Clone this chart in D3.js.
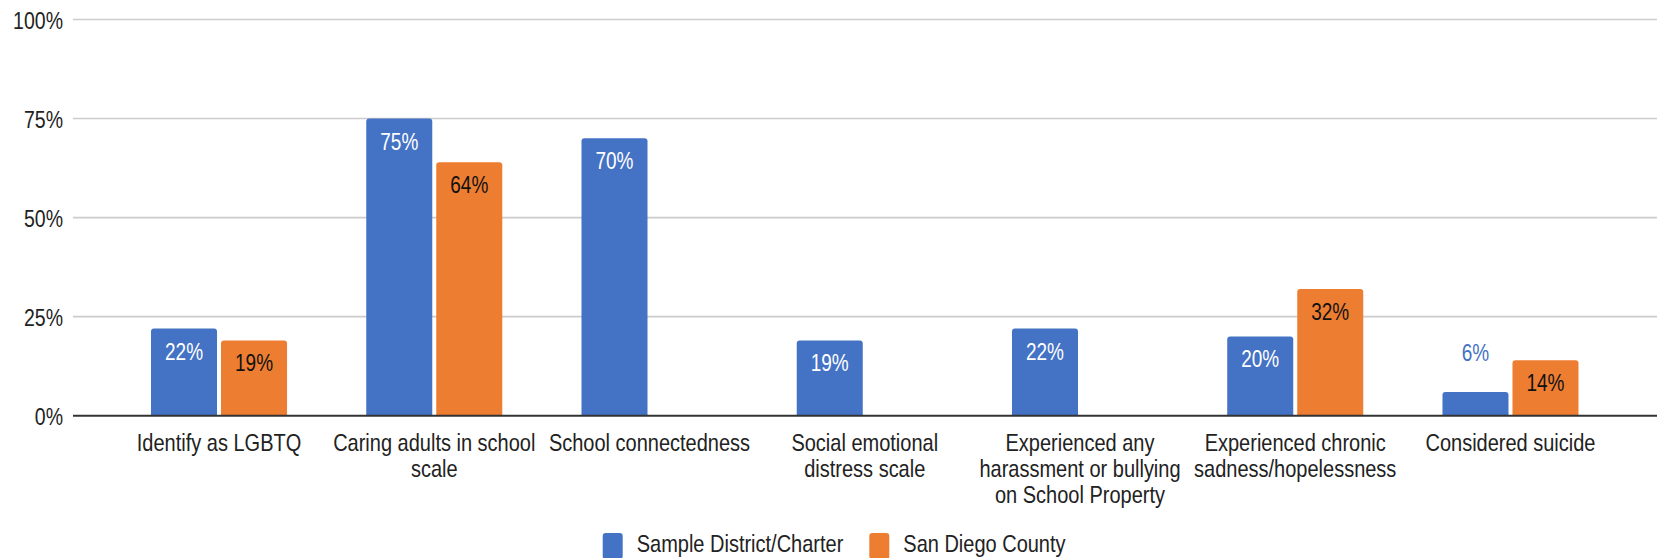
<!DOCTYPE html>
<html>
<head>
<meta charset="utf-8">
<script src="https://cdn.jsdelivr.net/npm/d3@7"></script>
<style>
  html, body { margin: 0; padding: 0; background: #fff; }
  svg { display: block; }
  text { font-family: "Liberation Sans", Arial, Helvetica, sans-serif; }
</style>
</head>
<body>
<svg id="chart" width="1659" height="558"></svg>
<script>
// ---- Data ----
const categories = [
  "Identify as LGBTQ",
  "Caring adults in school scale",
  "School connectedness",
  "Social emotional distress scale",
  "Experienced any harassment or bullying on School Property",
  "Experienced chronic sadness/hopelessness",
  "Considered suicide"
];
const seriesNames = ["Sample District/Charter", "San Diego County"];
const districtValues = [22, 75, 70, 19, 22, 20, 6];
const countyValues = [19, 64, null, null, null, 32, 14];
const yTickValues = [0, 25, 50, 75, 100];

// ---- Styling / layout ----
const colors = ["#4472C4", "#ED7D31"];
const labelInsideColors = ["#ffffff", "#111111"];
const STRETCH = 1.22; // reference text is vertically stretched
const gridLeft = 73, gridRight = 1657;
const yTop = 19.5, yBottom = 415.7;

const svg = d3.select("#chart");

const y = d3.scaleLinear().domain([0, 100]).range([yBottom, yTop]);
const x0 = d3.scaleBand().domain(categories).range([111.4, 1618.1])
  .paddingInner(0.368).paddingOuter(0.184);
const x1 = d3.scaleBand().domain(seriesNames).range([0, x0.bandwidth()])
  .paddingInner(0.057).paddingOuter(0);

function stretchedText(sel, tx, ty) {
  return sel.attr("transform", (d, i) => `translate(${tx(d, i)},${ty(d, i)}) scale(1,${STRETCH})`);
}

// gridlines
svg.append("g").selectAll("line")
  .data(yTickValues.filter(v => v !== 0))
  .join("line")
  .attr("x1", gridLeft).attr("x2", gridRight)
  .attr("y1", d => y(d)).attr("y2", d => y(d))
  .attr("stroke", "#cccccc").attr("stroke-width", 1.6);

// y tick labels
svg.append("g").selectAll("text")
  .data(yTickValues)
  .join("text")
  .call(stretchedText, () => 63, d => y(d) + 9.5)
  .attr("text-anchor", "end")
  .attr("font-size", 19.5)
  .attr("fill", "#222")
  .text(d => d + "%");

// bars
const series = seriesNames.map((name, si) => ({
  name, si, values: si === 0 ? districtValues : countyValues
}));

function topRoundedBar(x, yTopPx, w, yBase, r) {
  const h = yBase - yTopPx;
  r = Math.min(r, h, w / 2);
  return `M${x},${yBase}V${yTopPx + r}Q${x},${yTopPx} ${x + r},${yTopPx}` +
         `H${x + w - r}Q${x + w},${yTopPx} ${x + w},${yTopPx + r}V${yBase}Z`;
}

const barData = [];
series.forEach(s => {
  s.values.forEach((v, ci) => {
    if (v === null || v === undefined) return;
    barData.push({ cat: categories[ci], name: s.name, si: s.si, value: v });
  });
});

svg.append("g").selectAll("path")
  .data(barData)
  .join("path")
  .attr("d", d => topRoundedBar(x0(d.cat) + x1(d.name), y(d.value), x1.bandwidth(), y(0), 3))
  .attr("fill", d => colors[d.si]);

// axis baseline
svg.append("line")
  .attr("x1", gridLeft).attr("x2", gridRight)
  .attr("y1", y(0)).attr("y2", y(0))
  .attr("stroke", "#333").attr("stroke-width", 2);

// value labels
svg.append("g").selectAll("text")
  .data(barData)
  .join("text")
  .call(stretchedText,
    d => x0(d.cat) + x1(d.name) + x1.bandwidth() / 2,
    d => {
      const inside = (y(0) - y(d.value)) > 40;
      return inside ? y(d.value) + 31 : y(d.value) - 31;
    })
  .attr("text-anchor", "middle")
  .attr("font-size", 19)
  .attr("fill", d => ((y(0) - y(d.value)) > 40) ? labelInsideColors[d.si] : colors[d.si])
  .text(d => d.value + "%");

// category labels (wrapped)
const maxLabelWidth = 210;
const catG = svg.append("g");
categories.forEach(cat => {
  const cx = x0(cat) + x0.bandwidth() / 2;
  const words = cat.split(" ");
  const lines = [];
  let line = [];
  const probe = catG.append("text").attr("font-size", 20);
  words.forEach(w => {
    const test = line.concat([w]).join(" ");
    probe.text(test);
    if (probe.node().getComputedTextLength() > maxLabelWidth && line.length) {
      lines.push(line.join(" "));
      line = [w];
    } else {
      line.push(w);
    }
  });
  if (line.length) lines.push(line.join(" "));
  probe.remove();
  catG.append("g").selectAll("text")
    .data(lines)
    .join("text")
    .call(stretchedText, () => cx, (d, i) => 451 + i * 26)
    .attr("text-anchor", "middle")
    .attr("font-size", 20)
    .attr("fill", "#222")
    .text(d => d);
});

// legend
const legendItems = [
  { name: seriesNames[0], color: colors[0], sx: 602.7, tx: 636.7 },
  { name: seriesNames[1], color: colors[1], sx: 869.3, tx: 903.3 }
];
const leg = svg.append("g");
leg.selectAll("rect")
  .data(legendItems)
  .join("rect")
  .attr("x", d => d.sx).attr("y", 533)
  .attr("width", 20).attr("height", 26)
  .attr("rx", 3).attr("ry", 3)
  .attr("fill", d => d.color);
leg.selectAll("text")
  .data(legendItems)
  .join("text")
  .call(stretchedText, d => d.tx, () => 552)
  .attr("font-size", 20)
  .attr("fill", "#222")
  .text(d => d.name);
</script>
</body>
</html>
